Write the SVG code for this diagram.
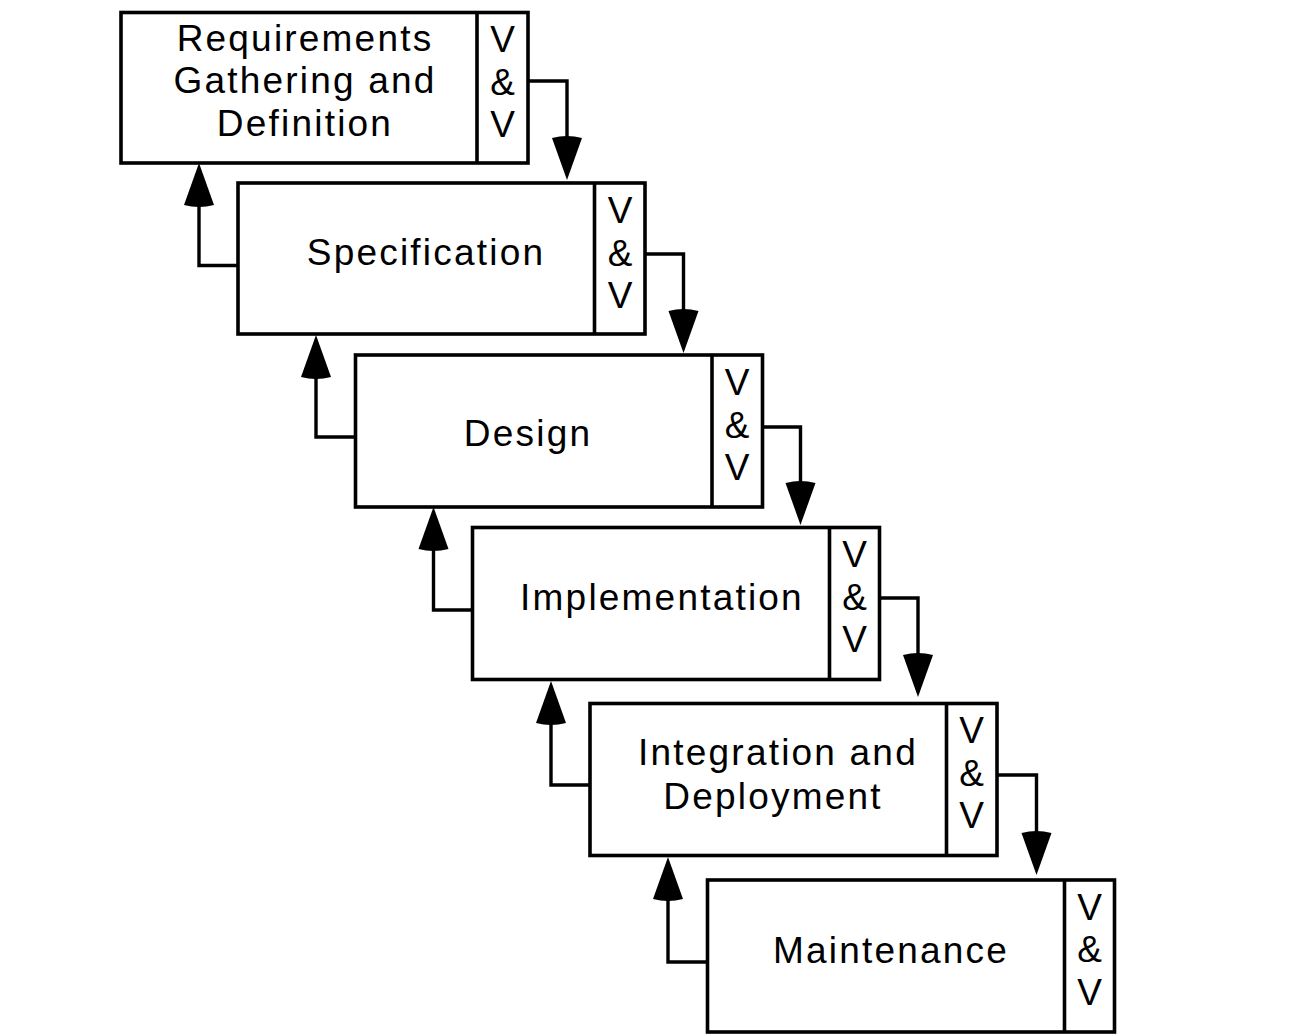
<svg xmlns="http://www.w3.org/2000/svg" width="1306" height="1036" viewBox="0 0 1306 1036">
<defs>
<style>
.box{fill:#fff;stroke:#000;stroke-width:3.6}
.div{stroke:#000;stroke-width:3.6}
.lbl{font-family:"Liberation Sans",Arial,sans-serif;font-size:37px;letter-spacing:2.2px;text-anchor:middle;fill:#000}
.vv{font-family:"Liberation Sans",Arial,sans-serif;font-size:37px;text-anchor:middle;fill:#000}
.con{fill:none;stroke:#000;stroke-width:3.4;marker-end:url(#ah)}
</style>
<marker id="ah" markerUnits="userSpaceOnUse" markerWidth="46" markerHeight="32" refX="0" refY="15" orient="auto" overflow="visible">
<path d="M0,0 Q-4,15 0,30 L42,15 Z" fill="#000"/>
</marker>
</defs>
<rect width="1306" height="1036" fill="#fff"/>
<g id="connectors">
<path class="con" d="M528,81 H567 V138"/>
<path class="con" d="M645,254 H683.5 V311"/>
<path class="con" d="M762.5,427 H800.5 V483"/>
<path class="con" d="M879.5,598 H918 V655"/>
<path class="con" d="M997,775 H1036.5 V833"/>
<path class="con" d="M238,265.5 H199 V205"/>
<path class="con" d="M355.5,437 H316 V377"/>
<path class="con" d="M472.5,610 H433.5 V549"/>
<path class="con" d="M590,785 H551 V723"/>
<path class="con" d="M707.5,962 H668 V899"/>
</g>
<g id="n1">
<rect class="box" x="121" y="12.5" width="407" height="150.5"/>
<line class="div" x1="477" y1="12.5" x2="477" y2="163"/>
<text class="lbl" x="305" y="51">Requirements</text>
<text class="lbl" x="305" y="93">Gathering and</text>
<text class="lbl" x="305" y="136">Definition</text>
<text class="vv" x="502.5" y="52">V</text>
<text class="vv" x="502.5" y="94.5">&amp;</text>
<text class="vv" x="502.5" y="137">V</text>
</g>
<g id="n2">
<rect class="box" x="238" y="183" width="407" height="151"/>
<line class="div" x1="594.5" y1="183" x2="594.5" y2="334"/>
<text class="lbl" x="426" y="265">Specification</text>
<text class="vv" x="620" y="223">V</text>
<text class="vv" x="620" y="265.5">&amp;</text>
<text class="vv" x="620" y="308">V</text>
</g>
<g id="n3">
<rect class="box" x="355.5" y="355" width="407" height="152"/>
<line class="div" x1="712" y1="355" x2="712" y2="507"/>
<text class="lbl" x="528" y="445.5">Design</text>
<text class="vv" x="737" y="395">V</text>
<text class="vv" x="737" y="438">&amp;</text>
<text class="vv" x="737" y="480">V</text>
</g>
<g id="n4">
<rect class="box" x="472.5" y="527.5" width="407" height="152"/>
<line class="div" x1="829.5" y1="527.5" x2="829.5" y2="679.5"/>
<text class="lbl" x="662" y="610">Implementation</text>
<text class="vv" x="854.5" y="567">V</text>
<text class="vv" x="854.5" y="610">&amp;</text>
<text class="vv" x="854.5" y="652">V</text>
</g>
<g id="n5">
<rect class="box" x="590" y="703.5" width="407" height="152"/>
<line class="div" x1="946.5" y1="703.5" x2="946.5" y2="855.5"/>
<text class="lbl" x="778" y="765">Integration and</text>
<text class="lbl" x="773" y="809">Deployment</text>
<text class="vv" x="971.5" y="743">V</text>
<text class="vv" x="971.5" y="786">&amp;</text>
<text class="vv" x="971.5" y="828">V</text>
</g>
<g id="n6">
<rect class="box" x="707.5" y="880" width="407" height="152"/>
<line class="div" x1="1064.5" y1="880" x2="1064.5" y2="1032"/>
<text class="lbl" x="891" y="963">Maintenance</text>
<text class="vv" x="1089.5" y="919.5">V</text>
<text class="vv" x="1089.5" y="962">&amp;</text>
<text class="vv" x="1089.5" y="1004.5">V</text>
</g>
</svg>
